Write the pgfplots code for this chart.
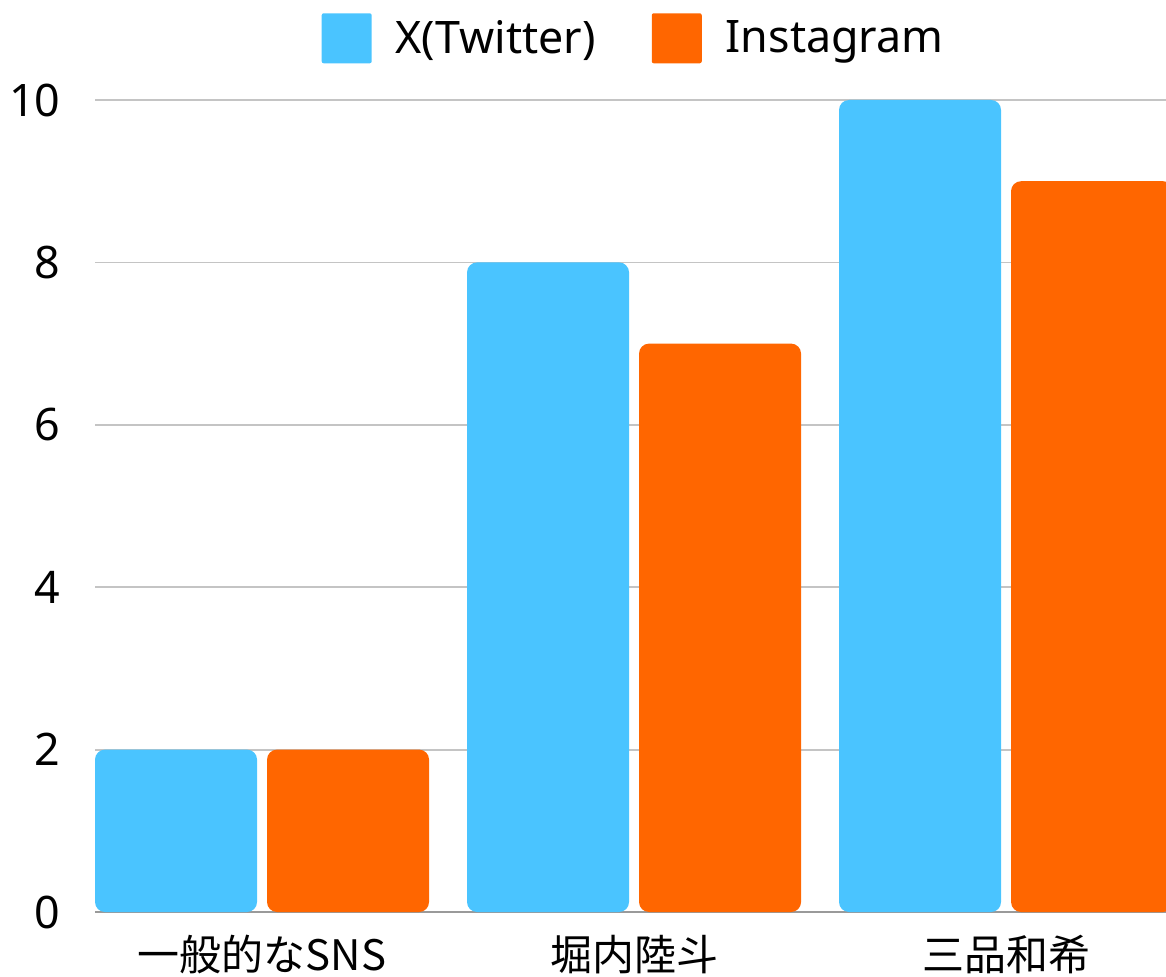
\documentclass[border=0pt]{standalone}
\usepackage{fontspec}
\setmainfont{Noto Sans}
\newfontfamily\cjk{Noto Sans CJK JP}
\usepackage{pgfplots}
\pgfplotsset{compat=1.18}
\definecolor{xblue}{HTML}{4AC4FF}
\definecolor{igorange}{HTML}{FF6600}
\definecolor{gridgray}{HTML}{C4C4C4}
\definecolor{axisgray}{HTML}{9A9A9A}
\newcommand{\chartfont}{\fontsize{22.4}{27}\selectfont}
\newcommand{\labfont}{\fontsize{21}{25}\selectfont}
\begin{document}
\begin{tikzpicture}
\useasboundingbox (0,0) rectangle (583pt,488pt);
\begin{axis}[
  at={(47.5pt,32pt)}, anchor=south west,
  width=535.5pt, height=406pt, scale only axis,
  y coord trafo/.code={\pgfmathparse{#1+0.15}},
  y coord inv trafo/.code={\pgfmathparse{#1-0.15}},
  xmin=-0.449, xmax=2.430, ymin=0, ymax=10,
  ybar, bar width=0.4355,
  axis x line*=bottom, axis y line*=left,
  x axis line style={-, draw=axisgray, line width=1pt},
  y axis line style={draw=none},
  xtick={0,1,2},
  xticklabels={{\cjk 一般的なSNS},{\cjk 堀内陸斗},{\cjk 三品和希}},
  ytick={0,2,4,6,8,10},
  yticklabels={0,2,4,6,8,10},
  ymajorgrids,
  grid style={draw=gridgray, line width=0.9pt},
  major tick length=0pt,
  yticklabel style={font=\chartfont, anchor=east, inner sep=0pt, xshift=-17pt},
  xticklabel style={font=\labfont, anchor=base, inner sep=0pt, yshift=-29pt},
  legend columns=2,
  legend style={draw=none, fill=none, at={(0.502,1.076)}, anchor=center,
    font=\chartfont, inner sep=0pt, column sep=0pt,
    /tikz/every odd column/.append style={column sep=12pt},
    /tikz/every even column/.append style={column sep=28pt},
    nodes={inner sep=0pt}},
  axis on top=false,
]
\addplot[draw=none, fill=xblue, bar shift=-0.2312, rounded corners=5pt,
  legend image code/.code={\fill[xblue, rounded corners=1pt] (0pt,-12.5pt) rectangle (25pt,12.5pt);}]
  coordinates {(0,2) (1,8) (2,10)};
\addplot[draw=none, fill=igorange, bar shift=0.2312, rounded corners=5pt,
  legend image code/.code={\fill[igorange, rounded corners=1pt] (0pt,-12.5pt) rectangle (25pt,12.5pt);}]
  coordinates {(0,2) (1,7) (2,9)};
\legend{X(Twitter), Instagram}
\end{axis}
\end{tikzpicture}
\end{document}
